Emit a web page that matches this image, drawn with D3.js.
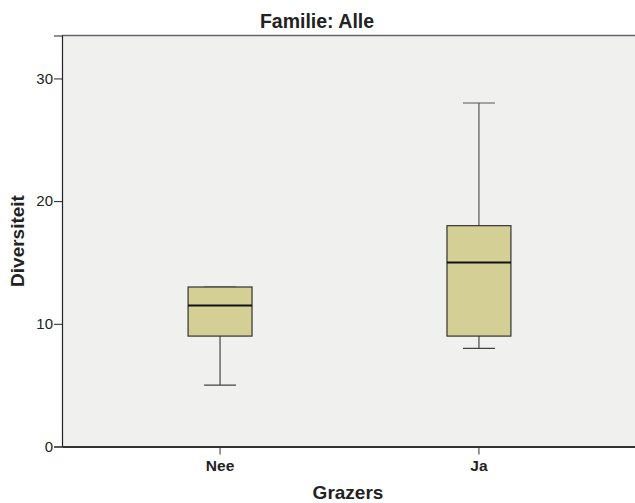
<!DOCTYPE html>
<html><head><meta charset="utf-8">
<script src="https://cdn.jsdelivr.net/npm/d3@7"></script>
<style>html,body{margin:0;padding:0;background:#fff;}svg{display:block;font-family:"Liberation Sans",Arial,sans-serif;}</style>
</head><body>
<script>
const categories = ["Nee", "Ja"];
const whiskerLow = [5, 8];
const q1 = [9, 9];
const median = [11.5, 15];
const q3 = [13, 18];
const whiskerHigh = [13, 28];
const yTicks = [0, 10, 20, 30];
const title = "Familie: Alle";
const xTitle = "Grazers";
const yTitle = "Diversiteit";

const W = 635, H = 503;
const m = {left: 62, right: 0, top: 35.5, bottom: 56};
const svg = d3.select("body").append("svg").attr("width", W).attr("height", H);

const x = d3.scaleBand().domain(categories).range([m.left, 637]).paddingInner(0.753).paddingOuter(0.487);
const y = d3.scaleLinear().domain([0, 33.5]).range([H - m.bottom - 0.5, m.top]);

svg.append("rect").attr("x", m.left).attr("y", m.top).attr("width", W - m.left).attr("height", y(0) - m.top).attr("fill", "#f0f0ef");
svg.append("line").attr("x1", m.left).attr("x2", W).attr("y1", m.top).attr("y2", m.top).attr("stroke", "#666").attr("stroke-width", 1.5);

const data = categories.map((c, i) => ({c, lo: whiskerLow[i], q1: q1[i], med: median[i], q3: q3[i], hi: whiskerHigh[i]}));
const bw = x.bandwidth();
const g = svg.append("g");
data.forEach(d => {
  const cx = x(d.c) + bw / 2;
  const capHalf = bw / 4;
  g.append("line").attr("x1", cx).attr("x2", cx).attr("y1", y(d.lo)).attr("y2", y(d.q1)).attr("stroke", "#444").attr("stroke-width", 1.2);
  g.append("line").attr("x1", cx).attr("x2", cx).attr("y1", y(d.q3)).attr("y2", y(d.hi)).attr("stroke", "#555").attr("stroke-width", 1.2);
  g.append("line").attr("x1", cx - capHalf).attr("x2", cx + capHalf).attr("y1", y(d.lo)).attr("y2", y(d.lo)).attr("stroke", "#444").attr("stroke-width", 1.2);
  g.append("line").attr("x1", cx - capHalf).attr("x2", cx + capHalf).attr("y1", y(d.hi)).attr("y2", y(d.hi)).attr("stroke", "#555").attr("stroke-width", 1.2);
  g.append("rect").attr("x", x(d.c)).attr("y", y(d.q3)).attr("width", bw).attr("height", y(d.q1) - y(d.q3))
    .attr("fill", "#d4cf95").attr("stroke", "#333").attr("stroke-width", 1.2);
  g.append("line").attr("x1", x(d.c)).attr("x2", x(d.c) + bw).attr("y1", y(d.med)).attr("y2", y(d.med)).attr("stroke", "#111").attr("stroke-width", 2);
});

const yAxis = svg.append("g").attr("transform", `translate(${m.left},0)`)
  .call(d3.axisLeft(y).tickValues(yTicks).tickSize(8).tickPadding(1));
yAxis.select(".domain").attr("stroke", "#222").attr("stroke-width", 1.2);
yAxis.selectAll(".tick line").attr("stroke", "#222");
yAxis.selectAll("text").attr("font-size", 15).attr("fill", "#222").attr("font-family", "Liberation Sans, Arial, sans-serif");

const xAxis = svg.append("g").attr("transform", `translate(0,${y(0)})`)
  .call(d3.axisBottom(x).tickSize(8).tickSizeOuter(0).tickPadding(5));
xAxis.select(".domain").attr("stroke", "#333").attr("stroke-width", 2);
xAxis.selectAll(".tick line").attr("stroke", "#333");
xAxis.selectAll("text").attr("font-size", 15.5).attr("font-weight", "bold").attr("fill", "#222").attr("font-family", "Liberation Sans, Arial, sans-serif");

svg.append("text").attr("x", 317).attr("y", 28).attr("text-anchor", "middle").attr("font-size", 19.5).attr("font-weight", "bold").attr("fill", "#222").text(title);
svg.append("text").attr("x", 348).attr("y", 499).attr("text-anchor", "middle").attr("font-size", 19).attr("font-weight", "bold").attr("fill", "#222").text(xTitle);
svg.append("text").attr("transform", `translate(24,${(m.top + y(0)) / 2}) rotate(-90)`).attr("text-anchor", "middle").attr("font-size", 19).attr("font-weight", "bold").attr("fill", "#222").text(yTitle);
</script>
</body></html>
